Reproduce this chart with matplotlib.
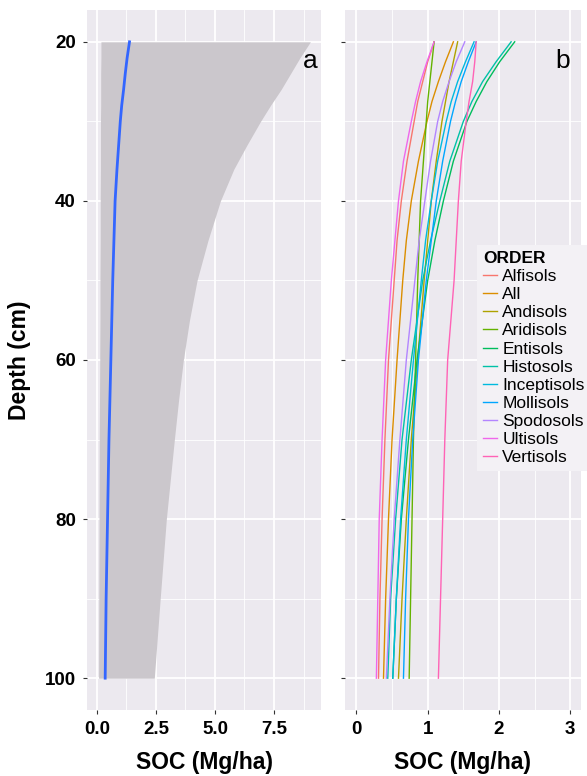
import matplotlib

matplotlib.use("Agg")
import matplotlib.pyplot as plt
from matplotlib.ticker import MultipleLocator

plt.rcParams["font.family"] = ["Liberation Sans", "DejaVu Sans"]

# ---- panel a: overall fit with ribbon ----
depth_a = [20, 22, 24, 26, 28, 30, 33, 36, 40, 45, 50, 55, 60, 65, 70, 80, 90, 100]
soc_mean = [1.38, 1.28, 1.20, 1.13, 1.05, 0.99, 0.92, 0.85, 0.77, 0.72, 0.67, 0.63,
            0.59, 0.55, 0.51, 0.45, 0.39, 0.35]
soc_upper = [9.04, 8.60, 8.20, 7.80, 7.35, 6.93, 6.35, 5.80, 5.23, 4.70, 4.24, 3.92,
             3.66, 3.46, 3.28, 2.94, 2.68, 2.43]
soc_lower = [0.17, 0.17, 0.16, 0.16, 0.16, 0.15, 0.15, 0.15, 0.14, 0.14, 0.13, 0.13,
             0.12, 0.11, 0.10, 0.09, 0.08, 0.07]

# ---- panel b: fits by soil order ----
depth_b = [20, 22.5, 25, 27.5, 30, 35, 40, 45, 50, 60, 70, 80, 90, 100]
orders = ["Alfisols", "All", "Andisols", "Aridisols", "Entisols", "Histosols",
          "Inceptisols", "Mollisols", "Spodosols", "Ultisols", "Vertisols"]
alfisols = [1.09, 1.00, 0.93, 0.86, 0.81, 0.71, 0.63, 0.57, 0.53, 0.45, 0.40, 0.36, 0.33, 0.31]
all_orders = [1.36, 1.25, 1.15, 1.06, 0.99, 0.87, 0.77, 0.70, 0.65, 0.57, 0.50, 0.45, 0.41, 0.38]
andisols = [1.42, 1.36, 1.30, 1.25, 1.20, 1.12, 1.05, 1.00, 0.95, 0.86, 0.77, 0.70, 0.64, 0.59]
aridisols = [1.09, 1.06, 1.03, 1.00, 0.98, 0.94, 0.90, 0.88, 0.86, 0.83, 0.80, 0.78, 0.76, 0.74]
entisols = [2.22, 2.01, 1.83, 1.68, 1.55, 1.36, 1.22, 1.10, 1.00, 0.85, 0.73, 0.63, 0.56, 0.51]
histosols = [2.17, 1.96, 1.77, 1.62, 1.50, 1.31, 1.17, 1.04, 0.93, 0.77, 0.64, 0.55, 0.48, 0.44]
inceptisols = [1.65, 1.53, 1.42, 1.33, 1.26, 1.14, 1.05, 0.97, 0.91, 0.80, 0.70, 0.62, 0.56, 0.51]
mollisols = [1.68, 1.57, 1.47, 1.39, 1.32, 1.21, 1.12, 1.05, 0.98, 0.87, 0.79, 0.73, 0.69, 0.66]
spodosols = [1.52, 1.40, 1.30, 1.21, 1.14, 1.04, 0.96, 0.88, 0.82, 0.70, 0.61, 0.53, 0.47, 0.42]
ultisols = [1.09, 0.99, 0.90, 0.83, 0.77, 0.66, 0.59, 0.54, 0.49, 0.41, 0.36, 0.32, 0.30, 0.28]
vertisols = [1.68, 1.66, 1.63, 1.58, 1.54, 1.47, 1.43, 1.40, 1.37, 1.28, 1.24, 1.21, 1.18, 1.15]
order_values = [alfisols, all_orders, andisols, aridisols, entisols, histosols,
                inceptisols, mollisols, spodosols, ultisols, vertisols]
order_colors = ["#F8766D", "#DB8E00", "#AEA200", "#64B200", "#00BD5C", "#00C1A7",
                "#00BADE", "#00A6FF", "#B385FF", "#EF67EB", "#FF63B6"]

PANEL_BG = "#ECE9EF"
W, H = 587, 776

fig = plt.figure(figsize=(W / 100, H / 100), dpi=100)
fig.patch.set_facecolor("white")

ax_a = fig.add_axes([87 / W, 1 - 710 / H, 234 / W, 700 / H])
ax_b = fig.add_axes([345 / W, 1 - 710 / H, 236 / W, 700 / H])


def style(ax):
    ax.set_facecolor(PANEL_BG)
    for s in ax.spines.values():
        s.set_visible(False)
    ax.grid(which="major", color="white", lw=1.3, zorder=0)
    ax.grid(which="minor", color="white", lw=0.6, zorder=0)
    ax.set_axisbelow(True)
    ax.tick_params(which="major", length=3, width=0.8, color="#333333", pad=5,
                   labelsize=13.5)
    ax.tick_params(which="minor", length=0)
    for lab in ax.get_xticklabels() + ax.get_yticklabels():
        lab.set_fontweight("bold")
    ax.yaxis.set_major_locator(MultipleLocator(20))
    ax.yaxis.set_minor_locator(MultipleLocator(10))
    ax.set_ylim(104, 16)


# panel a
ax_a.fill_betweenx(depth_a, soc_lower, soc_upper, color="#CBC7CC", lw=0, zorder=2)
ax_a.plot(soc_mean, depth_a, color="#3366FF", lw=2, zorder=3)
ax_a.set_xlim(-0.42, 9.49)
ax_a.xaxis.set_minor_locator(MultipleLocator(1.25))
ax_a.set_xticks([0, 2.5, 5, 7.5])
ax_a.set_xticklabels(["0.0", "2.5", "5.0", "7.5"])
style(ax_a)
ax_a.set_xlabel("SOC (Mg/ha)", fontsize=16.5, fontweight="bold", labelpad=9.5)
ax_a.set_ylabel("Depth (cm)", fontsize=16.5, fontweight="bold", labelpad=10)
ax_a.text(0.985, 0.927, "a", transform=ax_a.transAxes, ha="right", va="center",
          fontsize=19)

# panel b
for name, vals, col in zip(orders, order_values, order_colors):
    ax_b.plot(vals, depth_b, color=col, lw=1.0, label=name, zorder=3)
ax_b.set_xlim(-0.16, 3.15)
ax_b.xaxis.set_major_locator(MultipleLocator(1))
ax_b.xaxis.set_minor_locator(MultipleLocator(0.5))
style(ax_b)
ax_b.set_yticklabels([])
ax_b.set_xlabel("SOC (Mg/ha)", fontsize=16.5, fontweight="bold", labelpad=9.5)
ax_b.text(0.953, 0.927, "b", transform=ax_b.transAxes, ha="right", va="center",
          fontsize=19)

leg = fig.legend(*ax_b.get_legend_handles_labels(), loc="upper left",
                 bbox_to_anchor=(477 / W, 1 - 245 / H), title="ORDER",
                 fontsize=12.5, title_fontsize=12.5, frameon=True, handlelength=0.8,
                 handletextpad=0.3, labelspacing=0.17, borderpad=0.35,
                 borderaxespad=0, alignment="left")
leg.get_title().set_fontweight("bold")
leg.get_frame().set_facecolor("#F3F1F5")
leg.get_frame().set_edgecolor("none")
leg.get_frame().set_boxstyle("square", pad=0)
leg.get_frame().set_alpha(1)

fig.savefig("out.png", dpi=100)
